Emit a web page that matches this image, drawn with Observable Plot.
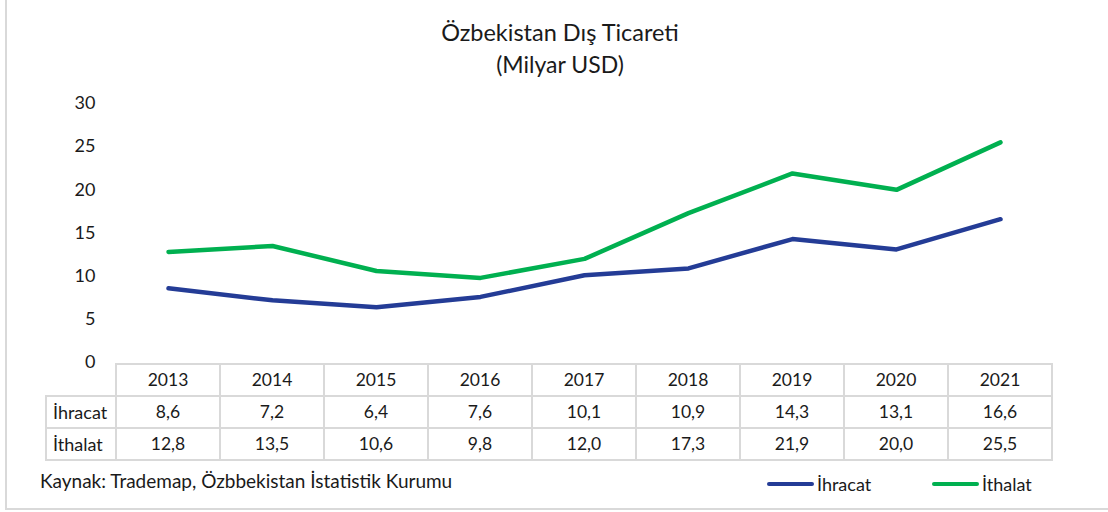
<!DOCTYPE html>
<html>
<head>
<meta charset="utf-8">
<script src="https://cdn.jsdelivr.net/npm/d3@7"></script>
<script src="https://cdn.jsdelivr.net/npm/@observablehq/plot@0.6"></script>
<style>
  html, body { margin: 0; padding: 0; background: #fff; }
  body { width: 1108px; height: 512px; overflow: hidden; font-family: Lato, "Noto Sans", sans-serif; color: #1a1a1a; }
  #wrap { position: relative; width: 1108px; height: 512px; }
  #frame { position: absolute; left: 5px; top: -5px; width: 1120px; height: 515px; border-left: 2px solid #d9d9d9; border-bottom: 2px solid #d9d9d9; box-sizing: border-box; }
  #title { position: absolute; left: 0; width: 1120px; top: 16px; text-align: center; font-size: 23.5px; line-height: 32px; }
  #subtitle { position: absolute; left: 0; width: 1120px; top: 48px; text-align: center; font-size: 23px; line-height: 32px; }
  #chart { position: absolute; left: 0; top: 0; }
  #table { position: absolute; left: 45px; top: 363px; border-collapse: collapse; font-size: 17.5px; table-layout: fixed; }
  #table tr { height: 32px; }
  #table td { border: 2px solid #d9d9d9; padding: 0; text-align: center; box-sizing: border-box; line-height: 20px; }
  #table td.lab { text-align: left; padding-left: 6px; width: 70px; font-size: 18px; }
  #table td.blank { border: none; border-bottom: 2px solid #d9d9d9; }
  #caption { position: absolute; left: 40px; top: 469px; font-size: 19px; line-height: 24px; }
  .leg { position: absolute; top: 472px; font-size: 18px; line-height: 24px; display: flex; align-items: center; }
  .leg span.sw { display: inline-block; width: 47px; height: 4.5px; border-radius: 2.5px; margin-right: 3px; }
</style>
</head>
<body>
<div id="wrap">
  <div id="frame"></div>
  <div id="title"></div>
  <div id="subtitle"></div>
  <div id="chart"></div>
  <table id="table"></table>
  <div id="caption"></div>
  <div id="legend"></div>
</div>
<script>
const titleText = "Özbekistan Dış Ticareti";
const subtitleText = "(Milyar USD)";
const captionText = "Kaynak: Trademap, Özbbekistan İstatistik Kurumu";
const years = ["2013", "2014", "2015", "2016", "2017", "2018", "2019", "2020", "2021"];
const seriesNames = ["İhracat", "İthalat"];
const seriesColors = ["#243c96", "#00b050"];
const ihracat = [8.6, 7.2, 6.4, 7.6, 10.1, 10.9, 14.3, 13.1, 16.6];
const ithalat = [12.8, 13.5, 10.6, 9.8, 12.0, 17.3, 21.9, 20.0, 25.5];
const yTicks = [0, 5, 10, 15, 20, 25, 30];

const seriesValues = [ihracat, ithalat];
const data = [];
seriesNames.forEach((s, i) => years.forEach((y, j) => data.push({series: s, year: y, value: seriesValues[i][j]})));

document.getElementById("title").textContent = titleText;
document.getElementById("subtitle").textContent = subtitleText;
document.getElementById("caption").textContent = captionText;

const W = 1108, mL = 115, mR = 55;
const chart = Plot.plot({
  width: W,
  height: 385,
  marginLeft: mL,
  marginRight: mR,
  marginTop: 103,
  marginBottom: 23,
  style: {fontFamily: "Lato, 'Noto Sans', sans-serif", fontSize: "18px", color: "#1a1a1a", background: "transparent"},
  x: {type: "point", domain: years, padding: 0.5, axis: null},
  y: {domain: [0, 30]},
  color: {domain: seriesNames, range: seriesColors},
  marks: [
    Plot.axisY({ticks: yTicks, tickSize: 0, tickPadding: 20, label: null, fontSize: 18, tickFormat: d => String(d)}),
    Plot.line(data, {x: "year", y: "value", z: "series", stroke: "series", strokeWidth: 4.5, strokeLinecap: "round", strokeLinejoin: "round"})
  ]
});
document.getElementById("chart").appendChild(chart);

// data table aligned to the x scale
const xs = chart.scale("x");
const step = xs.step != null ? xs.step : (W - mL - mR) / years.length;
const fmt = v => v.toFixed(1).replace(".", ",");
const table = document.getElementById("table");
const head = document.createElement("tr");
const blank = document.createElement("td");
blank.className = "blank lab";
head.appendChild(blank);
years.forEach(y => { const td = document.createElement("td"); td.textContent = y; td.style.width = step + "px"; head.appendChild(td); });
table.appendChild(head);
seriesNames.forEach((s, i) => {
  const tr = document.createElement("tr");
  const lab = document.createElement("td"); lab.className = "lab"; lab.textContent = s; tr.appendChild(lab);
  seriesValues[i].forEach(v => { const td = document.createElement("td"); td.textContent = fmt(v); tr.appendChild(td); });
  table.appendChild(tr);
});
table.style.width = (70 + step * years.length) + "px";

// legend
const legend = document.getElementById("legend");
const legX = [767, 932];
seriesNames.forEach((s, i) => {
  const d = document.createElement("div");
  d.className = "leg";
  d.style.left = legX[i] + "px";
  const sw = document.createElement("span"); sw.className = "sw"; sw.style.background = seriesColors[i];
  d.appendChild(sw);
  d.appendChild(document.createTextNode(s));
  legend.appendChild(d);
});
</script>
</body>
</html>
